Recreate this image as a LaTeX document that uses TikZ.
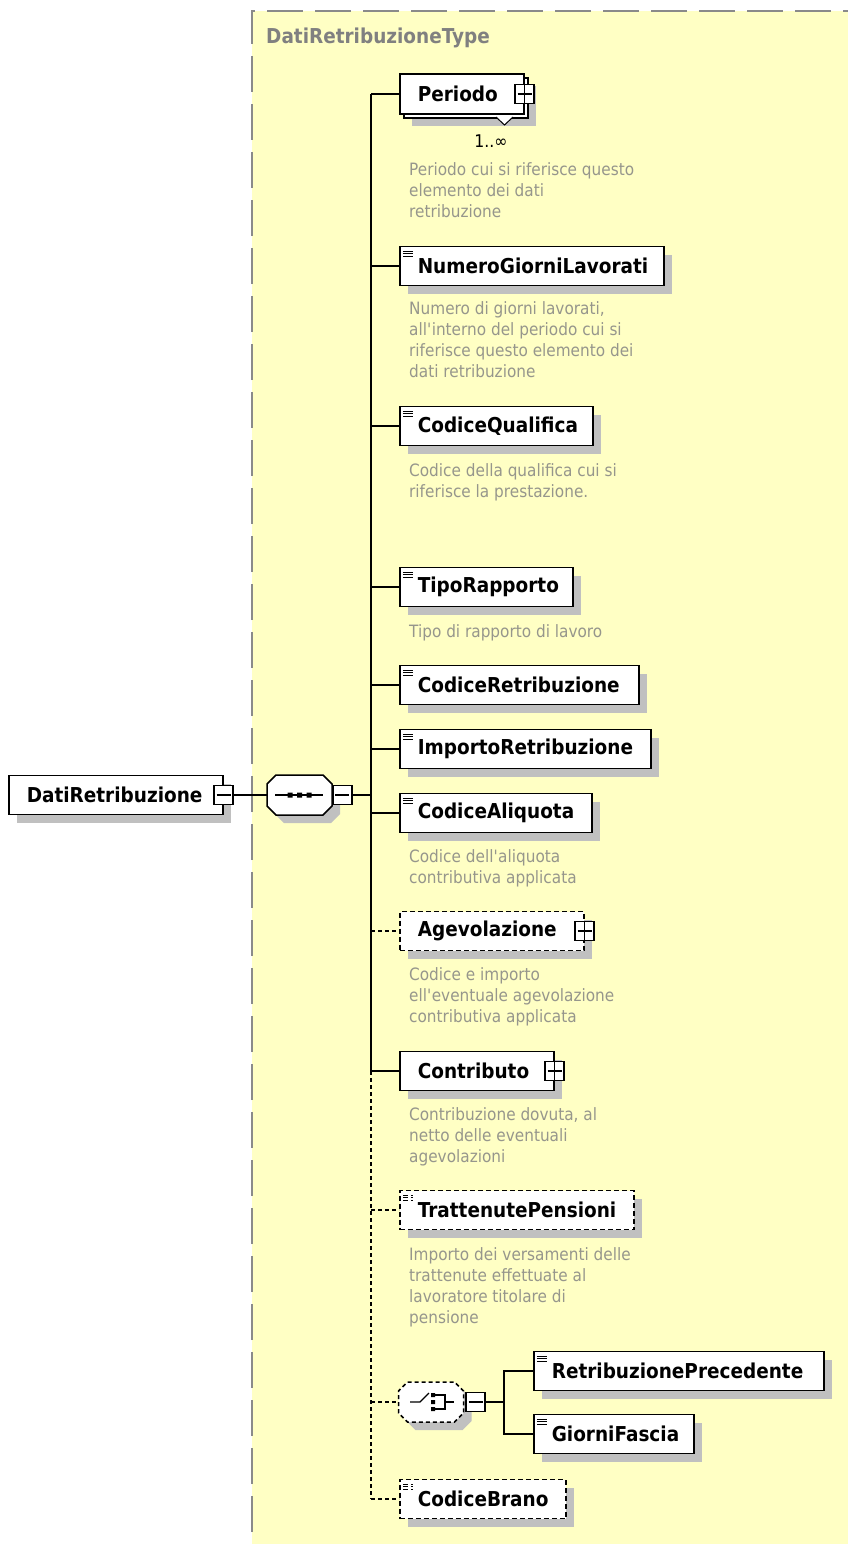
\documentclass[tikz,border=0pt]{standalone}
\usepackage{fontspec}
\setmainfont{DejaVu Sans}[FakeStretch=0.9]
\usetikzlibrary{shadows}

\definecolor{spyyellow}{RGB}{255,255,196}
\definecolor{framegray}{RGB}{138,138,138}
\definecolor{shadowgray}{RGB}{192,192,192}
\definecolor{descgray}{RGB}{150,150,140}
\definecolor{typegray}{RGB}{128,128,128}

\newcommand{\elname}[1]{\noindent\hspace*{18pt}\mbox{#1}}

\begin{document}
\begin{tikzpicture}[x=1pt, y=-1pt,
  elemline/.style={line width=1.5pt},
  optline/.style={elemline, dash pattern=on 4pt off 3pt},
  shadowed/.style={drop shadow={shadow xshift=8pt, shadow yshift=-8pt, fill=shadowgray, opacity=1}},
  plainbox/.style={draw, line width=1.6pt, fill=white, anchor=west, minimum height=39pt,
    inner sep=0pt, align=left, font=\bfseries\fontsize{20.5}{24}\selectfont},
  elembox/.style={plainbox, shadowed},
  optbox/.style={elembox, dash pattern=on 5pt off 3pt},
  simpletype/.style={path picture={
      \draw[line width=0.9pt] ([xshift=3pt, yshift=-4.5pt]path picture bounding box.north west) -- ++(10,0);
      \draw[line width=0.9pt] ([xshift=3pt, yshift=-7pt]path picture bounding box.north west) -- ++(10,0);
      \draw[line width=0.9pt] ([xshift=3pt, yshift=-9.5pt]path picture bounding box.north west) -- ++(10,0);}},
  plusbox/.style={draw, fill=white, line width=1.3pt, minimum size=19pt, inner sep=0pt,
    path picture={
      \draw[line width=1.3pt] (path picture bounding box.north) -- (path picture bounding box.south);
      \draw[line width=1.3pt] ([xshift=2.5pt]path picture bounding box.west) -- ([xshift=-2.5pt]path picture bounding box.east);}},
  minusbox/.style={draw, fill=white, line width=1.3pt, minimum size=19pt, inner sep=0pt,
    path picture={
      \draw[line width=1.3pt] ([xshift=2.5pt]path picture bounding box.west) -- ([xshift=-2.5pt]path picture bounding box.east);}},
  compositor/.style={inner sep=0pt, minimum width=65pt, minimum height=40pt},
  octpath/.style={insert path={(-23.5,-20) -- (23.5,-20) -- (32.5,-11) -- (32.5,11) -- (23.5,20)
      -- (-23.5,20) -- (-32.5,11) -- (-32.5,-11) -- cycle}},
  descr/.style={anchor=base west, align=left, inner sep=0pt, text=descgray,
    font=\fontsize{17}{21}\selectfont},
  typetitle/.style={anchor=west, inner sep=0pt, text=typegray, font=\bfseries\fontsize{20.5}{24}\selectfont},
  multtext/.style={inner sep=0pt, font=\fontsize{17.5}{20}\selectfont}]

\useasboundingbox (0,0) rectangle (848,1544);

% type frame
\fill[spyyellow] (252,11) rectangle (848,1544);
\draw[framegray, line width=2pt, dash pattern=on 36pt off 12pt] (252,1532) -- (252,11) -- (848,11);
\node[typetitle] (typename) at (266,38) {DatiRetribuzioneType};

% root and sequence
\node[elembox, text width=214pt] (root) at (8,795) {\elname{DatiRetribuzione}};
\node[minusbox] (rootm) at (root.east) {};
\node[compositor] (seq) at (299.5,795) {};
\begin{scope}[shift={(seq.center)}]
  \fill[shadowgray, shift={(8,8)}, octpath];
  \draw[line width=1.5pt, fill=white, octpath];
  \draw[line width=1.5pt] (-24.5,0) -- (23.5,0);
  \fill (-12,-2.5) rectangle (-7,2.5) (-2.5,-2.5) rectangle (2.5,2.5) (7,-2.5) rectangle (12,2.5);
\end{scope}
\node[minusbox, anchor=west] (seqm) at (seq.east) {};
\coordinate (trunk) at (371,795);

% Periodo 1..oo
\node[elembox, minimum height=40pt, text width=124pt] (perback) at (403,98) {};
\node[plainbox, minimum height=40pt, text width=124pt] (per) at (399,94) {\elname{Periodo}};
\draw[line width=1pt, fill=white] (496,117) -- (504.5,125) -- (513,117);
\node[plusbox] (perp) at (per.east) {};
\node[multtext] (permult) at (491,141) {1..∞};
\node[descr] (perdesc) at (409,217) {Periodo cui si riferisce questo\\elemento dei dati\\retribuzione};

\node[elembox, simpletype, text width=264pt] (giorni) at (399,266) {\elname{NumeroGiorniLavorati}};
\node[descr] (giornidesc) at (409,377) {Numero di giorni lavorati,\\all\textquotesingle interno del periodo cui si\\riferisce questo elemento dei\\dati retribuzione};

\node[elembox, simpletype, text width=193pt] (qual) at (399,426) {\elname{CodiceQualifica}};
\node[descr] (qualdesc) at (409,497) {Codice della qualifica cui si\\riferisce la prestazione.};

\node[elembox, simpletype, text width=173pt] (tipo) at (399,587) {\elname{TipoRapporto}};
\node[descr] (tipodesc) at (409,637) {Tipo di rapporto di lavoro};

\node[elembox, simpletype, text width=239pt] (codret) at (399,685) {\elname{CodiceRetribuzione}};
\node[elembox, simpletype, text width=251pt] (impret) at (399,749) {\elname{ImportoRetribuzione}};

\node[elembox, simpletype, text width=192pt] (aliq) at (399,813) {\elname{CodiceAliquota}};
\node[descr] (aliqdesc) at (409,883) {Codice dell\textquotesingle aliquota\\contributiva applicata};

\node[optbox, text width=184pt] (agev) at (399,931) {\elname{Agevolazione}};
\node[plusbox] (agevp) at (agev.east) {};
\node[descr] (agevdesc) at (409,1022) {Codice e importo\\ell\textquotesingle eventuale agevolazione\\contributiva applicata};

\node[elembox, text width=154pt] (contr) at (399,1071) {\elname{Contributo}};
\node[plusbox] (contrp) at (contr.east) {};
\node[descr] (contrdesc) at (409,1162) {Contribuzione dovuta, al\\netto delle eventuali\\agevolazioni};

\node[optbox, simpletype, text width=234pt] (tratt) at (399,1210) {\elname{TrattenutePensioni}};
\node[descr] (trattdesc) at (409,1323) {Importo dei versamenti delle\\trattenute effettuate al\\lavoratore titolare di\\pensione};

% optional choice
\node[compositor, minimum width=64pt] (ch) at (431,1402) {};
\begin{scope}[shift={(ch.center)}]
  \fill[shadowgray, shift={(8,8)}, octpath];
  \draw[line width=1.5pt, fill=white, dash pattern=on 4pt off 3pt, octpath];
  \draw[line width=1.2pt] (-21,0) -- (-11,0) -- (-2,-9);
  \fill (0,-9) rectangle (4,-5) (0,-2) rectangle (4,2) (0,5) rectangle (4,9);
  \draw[line width=1.2pt] (4,-7) -- (14,-7) -- (14,7) -- (4,7);
  \draw[line width=1.2pt] (14,0) -- (23,0);
\end{scope}
\node[minusbox] (chm) at (475.5,1402) {};
\coordinate (chtrunk) at (504,1402);
\node[elembox, simpletype, text width=290pt] (prec) at (533,1371) {\elname{RetribuzionePrecedente}};
\node[elembox, simpletype, text width=160pt] (fascia) at (533,1434) {\elname{GiorniFascia}};

\node[optbox, simpletype, text width=166pt] (brano) at (399,1499) {\elname{CodiceBrano}};

% connectors
\draw[elemline] (rootm.east) -- (seq.west);
\draw[elemline] (seqm.east) -- (trunk);
\draw[elemline] (trunk |- per.west) -- (trunk |- contr.west);
\draw[optline] (trunk |- contr.west) -- (trunk |- brano.west);
\draw[elemline] (trunk |- per.west) -- (per.west);
\draw[elemline] (trunk |- giorni.west) -- (giorni.west);
\draw[elemline] (trunk |- qual.west) -- (qual.west);
\draw[elemline] (trunk |- tipo.west) -- (tipo.west);
\draw[elemline] (trunk |- codret.west) -- (codret.west);
\draw[elemline] (trunk |- impret.west) -- (impret.west);
\draw[elemline] (trunk |- aliq.west) -- (aliq.west);
\draw[optline] (trunk |- agev.west) -- (agev.west);
\draw[elemline] (trunk |- contr.west) -- (contr.west);
\draw[optline] (trunk |- tratt.west) -- (tratt.west);
\draw[optline] (trunk |- ch.west) -- (ch.west);
\draw[optline] (trunk |- brano.west) -- (brano.west);
\draw[elemline] (chm.east) -- (chtrunk);
\draw[elemline] (prec.west) -| (chtrunk |- fascia.west) -- (fascia.west);
\end{tikzpicture}
\end{document}
